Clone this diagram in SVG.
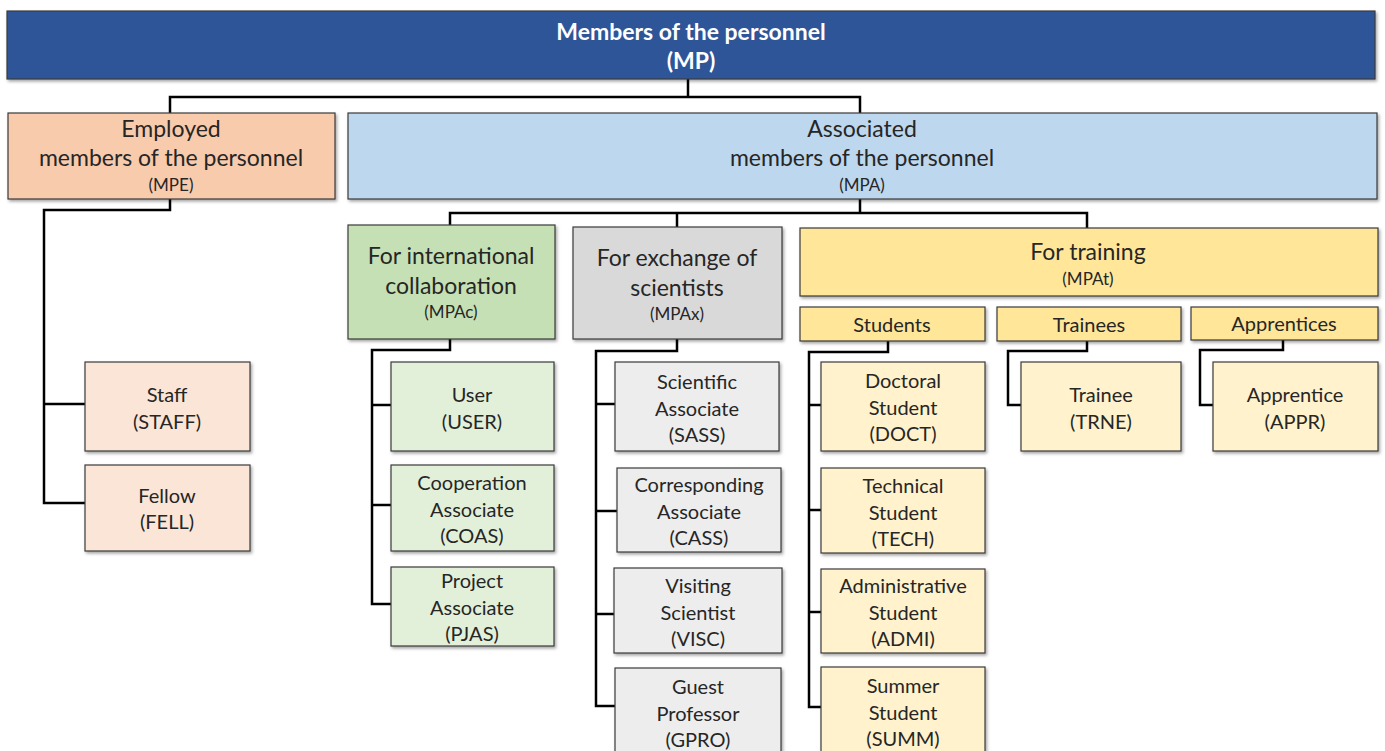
<svg xmlns="http://www.w3.org/2000/svg" width="1385" height="751" viewBox="0 0 1385 751">
<defs>
<filter id="sh" x="-10%" y="-10%" width="120%" height="130%">
<feDropShadow dx="1.5" dy="2" stdDeviation="1.5" flood-color="#000" flood-opacity="0.35"/>
</filter>
<style>
.b{stroke:#3a3a3a;stroke-width:1.2;filter:url(#sh)}
text{font-family:Lato,"Open Sans","Liberation Sans",sans-serif;fill:#262626;text-anchor:middle;dominant-baseline:central}
.t{font-size:23px}
.s{font-size:17px}
.c{font-size:20px}
.w{fill:#fff;font-weight:bold;font-size:23px}
.l{fill:none;stroke:#000;stroke-width:2.5}
.mp{fill:#2F5597}.mpe{fill:#F8CBAD}.mpa{fill:#BDD7EE}.mpc{fill:#C5E0B4}.mpx{fill:#D9D9D9}.mpt{fill:#FFE699}
.ce{fill:#FBE5D6}.cc{fill:#E2F0D9}.cx{fill:#EDEDED}.ct{fill:#FFF2CC}
</style>
</defs>
<rect width="1385" height="751" fill="#fff"/>
<g id="connectors">
<polyline class="l" points="688,79 688,97"/>
<polyline class="l" points="170,113 170,97 860,97 860,113"/>
<polyline class="l" points="170,199 170,210 44,210 44,503 85,503"/>
<polyline class="l" points="44,404 85,404"/>
<polyline class="l" points="860,199 860,213"/>
<polyline class="l" points="450,225 450,213 1087,213 1087,228"/>
<polyline class="l" points="677,213 677,227"/>
<polyline class="l" points="450,339 450,350 372,350 372,604 391,604"/>
<polyline class="l" points="372,405 391,405"/>
<polyline class="l" points="372,505 391,505"/>
<polyline class="l" points="677,339 677,351 596,351 596,706 615,706"/>
<polyline class="l" points="596,404 615,404"/>
<polyline class="l" points="596,511 617,511"/>
<polyline class="l" points="596,614 614,614"/>
<polyline class="l" points="888,341 888,352 809,352 809,707 821,707"/>
<polyline class="l" points="809,405 821,405"/>
<polyline class="l" points="809,510 821,510"/>
<polyline class="l" points="809,612 821,612"/>
<polyline class="l" points="1087,341 1087,351 1008,351 1008,405 1021,405"/>
<polyline class="l" points="1283,340 1283,350 1200,350 1200,405 1213,405"/>
</g>
<g id="MP"><rect class="b mp" x="7" y="11" width="1368" height="68"/>
<text class="w" x="691" y="31">Members of the personnel</text><text class="w" x="691" y="60">(MP)</text></g>
<g id="MPE"><rect class="b mpe" x="8" y="113" width="327" height="86"/>
<text class="t" x="171" y="128">Employed</text><text class="t" x="171" y="157">members of the personnel</text><text class="s" x="171" y="184">(MPE)</text></g>
<g id="MPA"><rect class="b mpa" x="348" y="113" width="1029" height="86"/>
<text class="t" x="862" y="128">Associated</text><text class="t" x="862" y="157">members of the personnel</text><text class="s" x="862" y="184">(MPA)</text></g>
<g id="STAFF"><rect class="b ce" x="85" y="362" width="165" height="89"/>
<text class="c" x="167" y="394">Staff</text><text class="c" x="167" y="421">(STAFF)</text></g>
<g id="FELL"><rect class="b ce" x="85" y="465" width="165" height="86"/>
<text class="c" x="167" y="495">Fellow</text><text class="c" x="167" y="521">(FELL)</text></g>
<g id="MPAc"><rect class="b mpc" x="348" y="225" width="207" height="114"/>
<text class="t" x="451" y="255">For international</text><text class="t" x="451" y="285">collaboration</text><text class="s" x="451" y="311">(MPAc)</text></g>
<g id="USER"><rect class="b cc" x="391" y="362" width="163" height="89"/>
<text class="c" x="472" y="394">User</text><text class="c" x="472" y="421">(USER)</text></g>
<g id="COAS"><rect class="b cc" x="391" y="465" width="163" height="86"/>
<text class="c" x="472" y="482">Cooperation</text><text class="c" x="472" y="509">Associate</text><text class="c" x="472" y="535">(COAS)</text></g>
<g id="PJAS"><rect class="b cc" x="391" y="567" width="163" height="79"/>
<text class="c" x="472" y="580">Project</text><text class="c" x="472" y="607">Associate</text><text class="c" x="472" y="633">(PJAS)</text></g>
<g id="MPAx"><rect class="b mpx" x="573" y="227" width="209" height="112"/>
<text class="t" x="677" y="257">For exchange of</text><text class="t" x="677" y="287">scientists</text><text class="s" x="677" y="313">(MPAx)</text></g>
<g id="SASS"><rect class="b cx" x="615" y="362" width="164" height="89"/>
<text class="c" x="697" y="381">Scientific</text><text class="c" x="697" y="408">Associate</text><text class="c" x="697" y="434">(SASS)</text></g>
<g id="CASS"><rect class="b cx" x="617" y="468" width="164" height="84"/>
<text class="c" x="699" y="484">Corresponding</text><text class="c" x="699" y="511">Associate</text><text class="c" x="699" y="537">(CASS)</text></g>
<g id="VISC"><rect class="b cx" x="614" y="568" width="168" height="85"/>
<text class="c" x="698" y="585">Visiting</text><text class="c" x="698" y="612">Scientist</text><text class="c" x="698" y="638">(VISC)</text></g>
<g id="GPRO"><rect class="b cx" x="615" y="668" width="166" height="90"/>
<text class="c" x="698" y="686">Guest</text><text class="c" x="698" y="713">Professor</text><text class="c" x="698" y="739">(GPRO)</text></g>
<g id="MPAt"><rect class="b mpt" x="800" y="228" width="578" height="68"/>
<text class="t" x="1088" y="251">For training</text><text class="s" x="1088" y="278">(MPAt)</text></g>
<g id="Students"><rect class="b mpt" x="800" y="307" width="185" height="34"/>
<text class="c" x="892" y="324">Students</text></g>
<g id="Trainees"><rect class="b mpt" x="997" y="307" width="184" height="34"/>
<text class="c" x="1089" y="324">Trainees</text></g>
<g id="Apprentices"><rect class="b mpt" x="1191" y="307" width="187" height="33"/>
<text class="c" x="1284" y="323">Apprentices</text></g>
<g id="DOCT"><rect class="b ct" x="821" y="362" width="164" height="89"/>
<text class="c" x="903" y="380">Doctoral</text><text class="c" x="903" y="407">Student</text><text class="c" x="903" y="433">(DOCT)</text></g>
<g id="TECH"><rect class="b ct" x="821" y="468" width="164" height="85"/>
<text class="c" x="903" y="485">Technical</text><text class="c" x="903" y="512">Student</text><text class="c" x="903" y="538">(TECH)</text></g>
<g id="ADMI"><rect class="b ct" x="821" y="569" width="164" height="84"/>
<text class="c" x="903" y="585">Administrative</text><text class="c" x="903" y="612">Student</text><text class="c" x="903" y="638">(ADMI)</text></g>
<g id="SUMM"><rect class="b ct" x="821" y="667" width="164" height="90"/>
<text class="c" x="903" y="685">Summer</text><text class="c" x="903" y="712">Student</text><text class="c" x="903" y="738">(SUMM)</text></g>
<g id="TRNE"><rect class="b ct" x="1021" y="362" width="160" height="89"/>
<text class="c" x="1101" y="394">Trainee</text><text class="c" x="1101" y="421">(TRNE)</text></g>
<g id="APPR"><rect class="b ct" x="1213" y="362" width="165" height="89"/>
<text class="c" x="1295" y="394">Apprentice</text><text class="c" x="1295" y="421">(APPR)</text></g>
</svg>
